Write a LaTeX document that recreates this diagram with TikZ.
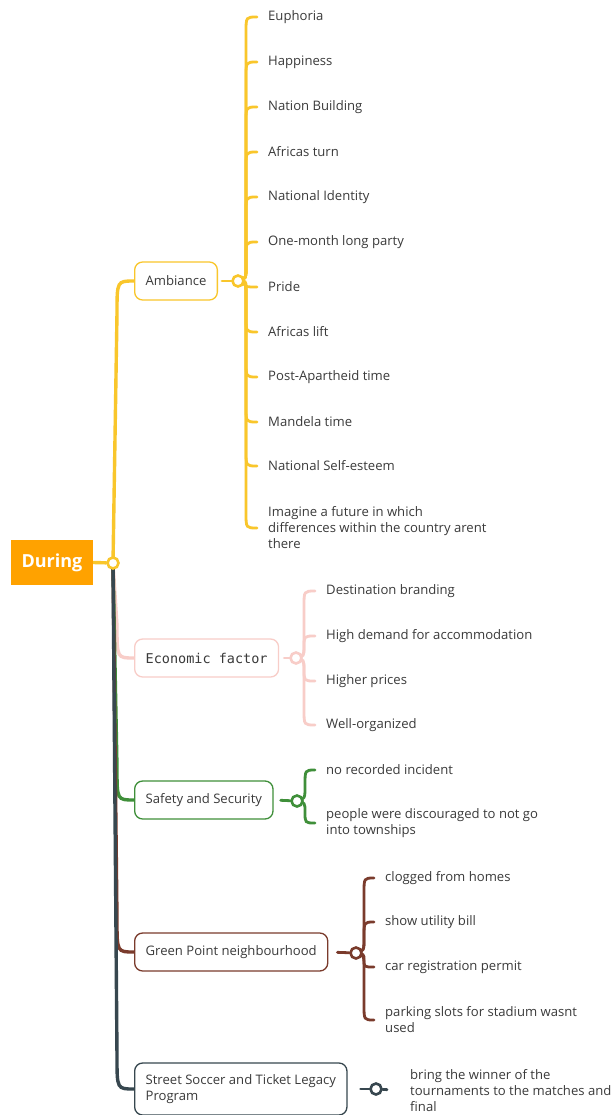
\documentclass[tikz,border=0pt]{standalone}
\usepackage{fontspec}
\setmainfont{Open Sans}
\newfontfamily\monofam{DejaVu Sans Mono}
\usetikzlibrary{calc}
\definecolor{ink}{HTML}{3A3A3A}
\definecolor{rootc}{HTML}{FFA200}
\definecolor{yellowc}{HTML}{F9C62B}
\definecolor{pinkc}{HTML}{F8CDC8}
\definecolor{greenc}{HTML}{3F8F3A}
\definecolor{brownc}{HTML}{7A3B2C}
\definecolor{darkc}{HTML}{37474F}
\newcommand{\leaffont}{\fontsize{13.1}{16}\selectfont}
\pgfdeclarelayer{back}
\pgfdeclarelayer{wires}
\pgfsetlayers{back,wires,main}
% curved twig from a hub to a leaf text
\newcommand{\sprout}[3]{%
  \draw[twig=#1] let \p1=(#2.center), \p2=(#3.west),
    \n2={ifthenelse(\y2>\y1,1,-1)*min(abs(\y2-\y1)/2,15)} in
    (#2.center) .. controls ({\x1+8pt},{\y1+0.15*\n2}) .. ({\x1+8pt},{\y1+\n2})
    -- ({\x1+8pt},{\y2-\n2}) .. controls ({\x1+8pt},\y2) .. ({\x2-11pt},\y2);}
% limb from the central hub to a topic box
\newcommand{\limb}[3]{%
  \draw[limbline=#1] let \p1=(#2.center), \p2=(#3.west),
    \n2={ifthenelse(\y2>\y1,1,-1)*min(abs(\y2-\y1)/2,32)} in
    (#2.center) -- ({\x1+4pt},{\y2-\n2}) .. controls ({\x1+4pt},\y2) .. (#3.west);}
\begin{document}
\begin{tikzpicture}[x=1pt,y=-1pt,
  topic/.style={draw=#1, line width=1.3pt, rounded corners=8pt, fill=white,
    anchor=west, minimum height=38pt, inner xsep=11pt, align=left, text=ink, font=\leaffont},
  leaf/.style={anchor=west, inner sep=0pt, align=left, text=ink, font=\leaffont},
  hub/.style={circle, draw=#1, fill=white, line width=2.6pt, minimum size=11pt, inner sep=0pt},
  twig/.style={draw=#1, line width=2.8pt, line cap=round},
  limbline/.style={draw=#1, line width=3.4pt, line cap=round},
]
\useasboundingbox (0,0) rectangle (611,1115);
\begin{pgfonlayer}{back}
  \fill[white] (0,0) rectangle (611,1115);
\end{pgfonlayer}

% central topic
\node[fill=rootc, minimum width=82pt, minimum height=45pt, inner sep=0pt,
  text=white, font=\bfseries\fontsize{18}{20}\selectfont] (root) at (52,562.5) {During};
\node[hub=yellowc] (hR) at (113,563) {};

% topics
\node[topic=yellowc] (bA) at (134,281) {Ambiance};
\node[topic=pinkc, font=\monofam\fontsize{13.5}{16}\selectfont] (bB) at (134,658) {Economic factor};
\node[topic=greenc] (bC) at (134,800) {Safety and Security};
\node[topic=brownc] (bD) at (134,952) {Green Point neighbourhood};
\node[topic=darkc, minimum height=52pt] (bE) at (134,1089) {Street Soccer and Ticket Legacy\\Program};

% hubs
\node[hub=yellowc] (hA) at (238,281) {};
\node[hub=pinkc] (hB) at (296,658) {};
\node[hub=greenc] (hC) at (297,801) {};
\node[hub=brownc] (hD) at (356,953) {};
\node[hub=darkc] (hE) at (376,1089) {};

% Ambiance leaves
\node[leaf] (a1) at (268,17) {Euphoria};
\node[leaf] (a2) at (268,62) {Happiness};
\node[leaf] (a3) at (268,107) {Nation Building};
\node[leaf] (a4) at (268,152) {Africas turn};
\node[leaf] (a5) at (268,197) {National Identity};
\node[leaf] (a6) at (268,242) {One-month long party};
\node[leaf] (a7) at (268,287) {Pride};
\node[leaf] (a8) at (268,332) {Africas lift};
\node[leaf] (a9) at (268,377) {Post-Apartheid time};
\node[leaf] (a10) at (268,422) {Mandela time};
\node[leaf] (a11) at (268,466) {National Self-esteem};
\node[leaf] (a12) at (268,528) {Imagine a future in which\\differences within the country arent\\there};

% Economic factor leaves
\node[leaf] (b1) at (326,591) {Destination branding};
\node[leaf] (b2) at (326,636) {High demand for accommodation};
\node[leaf] (b3) at (326,681) {Higher prices};
\node[leaf] (b4) at (326,725) {Well-organized};

% Safety and Security leaves
\node[leaf] (c1) at (326,770) {no recorded incident};
\node[leaf] (c2) at (326,823) {people were discouraged to not go\\into townships};

% Green Point leaves
\node[leaf] (d1) at (385,878) {clogged from homes};
\node[leaf] (d2) at (385,922) {show utility bill};
\node[leaf] (d3) at (385,967) {car registration permit};
\node[leaf] (d4) at (385,1020) {parking slots for stadium wasnt\\used};

% Street Soccer leaf
\node[leaf] (e1) at (410,1091) {bring the winner of the\\tournaments to the matches and\\final};

\begin{pgfonlayer}{wires}
  \draw[limbline=yellowc] (root.east) -- (hR);
  \limb{pinkc}{hR}{bB}
  \limb{greenc}{hR}{bC}
  \limb{brownc}{hR}{bD}
  \limb{darkc}{hR}{bE}
  \limb{yellowc}{hR}{bA}

  \draw[twig=yellowc, shorten <=4pt] (bA.east) -- (hA);
  \draw[twig=pinkc, shorten <=5pt] (bB.east) -- (hB);
  \draw[twig=greenc, shorten <=7pt] (bC.east) -- (hC);
  \draw[twig=brownc, shorten <=9pt] (bD.east) -- (hD);
  \draw[twig=darkc, shorten <=13pt] (bE.east) -- (hE);

  \foreach \l in {a1,a2,a3,a4,a5,a6,a7,a8,a9,a10,a11,a12} {\sprout{yellowc}{hA}{\l}}
  \foreach \l in {b1,b2,b3,b4} {\sprout{pinkc}{hB}{\l}}
  \foreach \l in {c1,c2} {\sprout{greenc}{hC}{\l}}
  \foreach \l in {d1,d2,d3,d4} {\sprout{brownc}{hD}{\l}}
  \draw[twig=darkc, shorten >=23pt] (hE) -- (e1.west);
\end{pgfonlayer}
\end{tikzpicture}
\end{document}
